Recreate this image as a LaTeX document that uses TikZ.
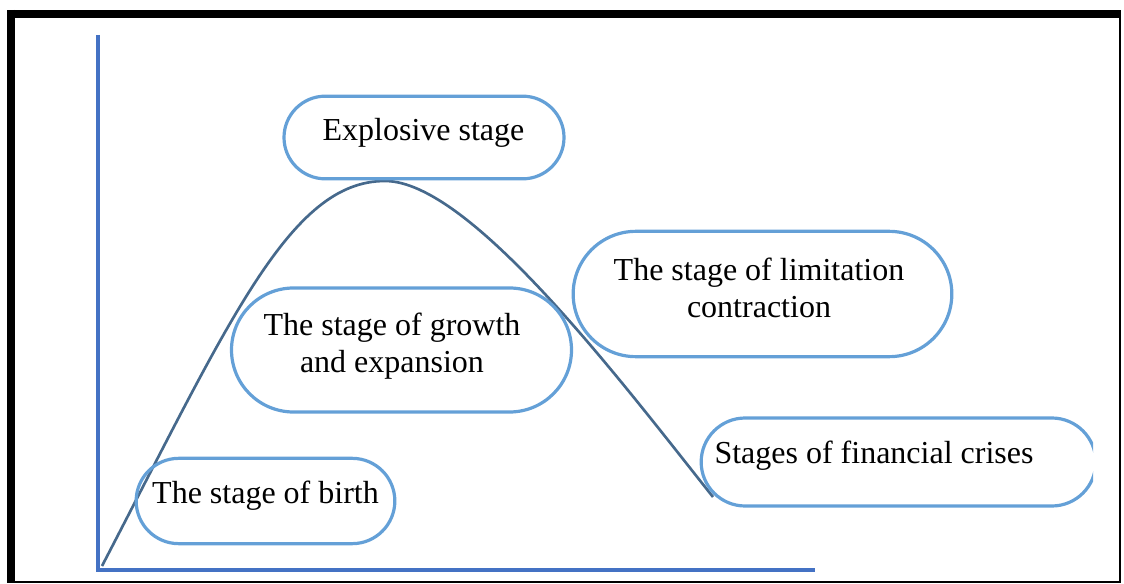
\documentclass[tikz,border=0pt]{standalone}
\usepackage{fontspec}
\setmainfont{Liberation Serif}
\usetikzlibrary{shapes.misc}

\definecolor{axisblue}{RGB}{68,114,196}
\definecolor{boxblue}{RGB}{100,160,215}
\definecolor{curvegray}{RGB}{70,105,140}

\tikzset{
  stagebox/.style={rounded rectangle, draw=boxblue, line width=2.4pt, inner sep=0pt},
  stagetext/.style={inner sep=0pt, align=center, font=\fontsize{24}{28}\selectfont},
}

\begin{document}
\begin{tikzpicture}[x=0.75pt,y=-0.75pt]
	\useasboundingbox (0,0) rectangle (1124,584);
	% frame
	\draw[line width=6pt] (7,14) -- (1121,14);
	\draw[line width=6pt] (11,10) -- (11,583);
	\draw[line width=1.5pt] (1120,17) -- (1120,583);
	\draw[line width=1.5pt] (14,582) -- (1121,582);
	% axes
	\coordinate (ytop) at (98,35);
	\coordinate (origin) at (98,570);
	\coordinate (xend) at (815,570);
	\draw[axisblue, line width=2.6pt] (ytop) -- (origin) -- (xend);
	% life cycle curve
	\coordinate (start) at (102,566);
	\coordinate (peak) at (385,181);
	\coordinate (finish) at (713,497);
	\draw[curvegray, line width=2pt] (start) .. controls (230,320) and (290,181) .. (peak)
		.. controls (470,181) and (620,380) .. (finish);
	% stages
	\node[stagebox, minimum width=210pt, minimum height=62pt] (explosive) at (424,137.5) {};
	\node[stagebox, minimum width=255pt, minimum height=93pt] (growth) at (401.5,350) {};
	\node[stagebox, minimum width=284pt, minimum height=94pt] (limitation) at (762.5,294) {};
	\node[stagebox, minimum width=194pt, minimum height=64pt] (birth) at (265.5,501) {};
	\begin{scope}
		\clip (690,400) rectangle (1093,520);
		\node[stagebox, minimum width=296pt, minimum height=66pt] (crises) at (898.5,462) {};
	\end{scope}
	\node[stagetext] (explosivetext) at (423.5,132.5) {Explosive stage};
	\node[stagetext] (growthtext) at (392,346) {The stage of growth\\and expansion};
	\node[stagetext] (limitationtext) at (759,288) {The stage of limitation\\contraction};
	\node[stagetext] (birthtext) at (265.5,495.5) {The stage of birth};
	\node[stagetext] (crisestext) at (874,455.5) {Stages of financial crises};
\end{tikzpicture}
\end{document}
